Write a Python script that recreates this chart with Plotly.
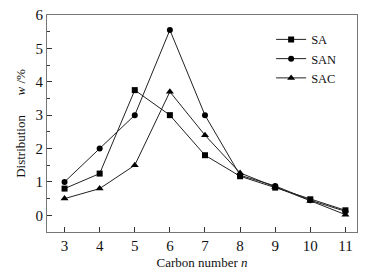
import plotly.graph_objects as go

carbon = [3, 4, 5, 6, 7, 8, 9, 10, 11]
sa = [0.8, 1.25, 3.75, 3.0, 1.8, 1.17, 0.83, 0.48, 0.15]
san = [1.0, 2.0, 3.0, 5.55, 3.0, 1.2, 0.88, 0.45, 0.12]
sac = [0.5, 0.8, 1.5, 3.7, 2.4, 1.27, 0.85, 0.43, 0.02]

font = "Liberation Serif, Times New Roman, serif"
fig = go.Figure()
for name, y, sym, sz in [("SA", sa, "square", 6), ("SAN", san, "circle", 6), ("SAC", sac, "triangle-up", 7)]:
    fig.add_trace(go.Scatter(x=carbon, y=y, name=name, mode="lines+markers",
                             line=dict(color="#222", width=1),
                             marker=dict(symbol=sym, size=sz, color="#000")))

# page has an 8px body margin, so the figure is offset to compensate
fig.update_layout(
    width=362, height=264,
    margin=dict(l=39, r=13, t=7, b=40),
    paper_bgcolor="white", plot_bgcolor="white",
    font=dict(family=font, size=15, color="#111"),
    showlegend=True,
    legend=dict(x=0.723, y=0.955, xanchor="left", yanchor="top",
                bgcolor="rgba(0,0,0,0)", font=dict(size=12.5), tracegroupgap=0,
                itemwidth=30),
    xaxis=dict(range=[2.5, 11.33], tickmode="array", tickvals=carbon,
               ticks="inside", ticklen=5, tickcolor="#333", automargin=False,
               ticklabeloverflow="allow",
               showline=True, linecolor="#777", mirror=True, showgrid=False, zeroline=False,
               title=dict(text="Carbon number <i>n</i>", standoff=4, font=dict(size=13))),
    yaxis=dict(range=[-0.5, 6], tickvals=[0, 1, 2, 3, 4, 5, 6],
               ticks="inside", ticklen=5, tickcolor="#333", automargin=False,
               ticklabeloverflow="allow",
               minor=dict(tickvals=[-0.5, 0.5, 1.5, 2.5, 3.5, 4.5, 5.5], ticks="inside", ticklen=3, tickcolor="#333"),
               showline=True, linecolor="#777", mirror=True, showgrid=False, zeroline=False,
               title=dict(text="Distribution      <i>w</i> /%", standoff=6, font=dict(size=13))),
)
fig.write_html("out.html")
